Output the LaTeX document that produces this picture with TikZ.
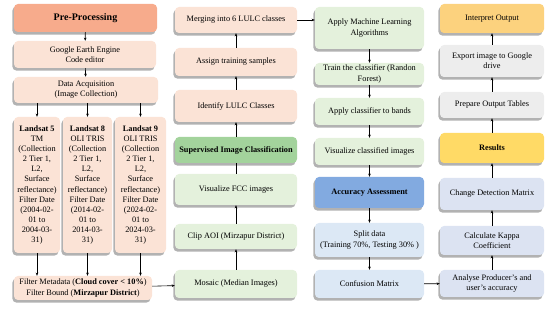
\documentclass[tikz,border=0pt]{standalone}
\usepackage{fontspec}
\setmainfont{Liberation Serif}
\usetikzlibrary{arrows.meta,shadows}
\definecolor{peach}{HTML}{FBE3D6}
\definecolor{orangeH}{HTML}{F7AB8C}
\definecolor{greenL}{HTML}{E4F1DC}
\definecolor{greenH}{HTML}{A3D39C}
\definecolor{blueL}{HTML}{DCE8F5}
\definecolor{blueH}{HTML}{82AAE0}
\definecolor{slateL}{HTML}{DCE3F2}
\definecolor{grayL}{HTML}{EDEDED}
\definecolor{goldL}{HTML}{FCD27E}
\definecolor{goldH}{HTML}{FFDA66}
\tikzset{
  box/.style={draw=none, rounded corners=4pt, align=center, inner sep=1pt,
    font=\fontsize{8.3}{10.1}\selectfont,
    drop shadow={shadow xshift=-1.6pt, shadow yshift=-2.6pt, fill=black, opacity=0.3}},
  bx/.style n args={3}{box, minimum width=#1, minimum height=#2, fill=#3},
  arr/.style={-{Stealth[length=3.2pt,width=2.6pt]}, line width=0.6pt, black},
  ln/.style={line width=0.6pt, black}
}
\begin{document}
\begin{tikzpicture}[x=1pt,y=-1pt]
\useasboundingbox (0,0) rectangle (550,312);
% Column 1
\node[bx={143pt}{28pt}{orangeH}, font=\fontsize{10}{12}\selectfont\bfseries] (pre) at (85.5,18) {Pre-Processing};
\node[bx={142pt}{27pt}{peach}] (gee) at (85,54.5) {Google Earth Engine\\Code editor};
\node[bx={144pt}{26pt}{peach}] (acq) at (86,90) {Data Acquisition\\(Image Collection)};
\node[bx={46pt}{136pt}{peach}] (l5) at (37,185) {\textbf{Landsat 5}\\TM\\(Collection\\2 Tier 1,\\L2,\\Surface\\reflectance)\\Filter Date\\(2004-02-\\01 to\\2004-03-\\31)};
\node[bx={49pt}{136pt}{peach}] (l8) at (87.5,185) {\textbf{Landsat 8}\\OLI TRIS\\(Collection\\2 Tier 1,\\L2,\\Surface\\reflectance)\\Filter Date\\(2014-02-\\01 to\\2014-03-\\31)};
\node[bx={51pt}{136pt}{peach}] (l9) at (140.5,185) {\textbf{Landsat 9}\\OLI TRIS\\(Collection\\2 Tier 1,\\L2,\\Surface\\reflectance)\\Filter Date\\(2024-02-\\01 to\\2024-03-\\31)};
\node[bx={138pt}{24pt}{peach}] (filt) at (83,288) {Filter Metadata (\textbf{Cloud cover < 10\%})\\Filter Bound (\textbf{Mirzapur District})};
% Column 2
\node[bx={122pt}{26pt}{peach}] (merge) at (236,20) {Merging into 6 LULC classes};
\node[bx={122pt}{28pt}{peach}] (assign) at (236,62) {Assign training samples};
\node[bx={122pt}{32pt}{peach}] (ident) at (236,106) {Identify LULC Classes};
\node[bx={122pt}{26pt}{greenH}, font=\fontsize{8.3}{10.1}\selectfont\bfseries] (sup) at (236,150) {Supervised Image Classification};
\node[bx={122pt}{31pt}{greenL}] (fcc) at (236,189.5) {Visualize FCC images};
\node[bx={122pt}{25pt}{greenL}] (clip) at (236,236.5) {Clip AOI (Mirzapur District)};
\node[bx={122pt}{28pt}{greenL}] (mosaic) at (236,284) {Mosaic (Median Images)};
% Column 3
\node[bx={109pt}{42pt}{greenL}] (ml) at (369.5,28) {Apply Machine Learning\\Algorithms};
\node[bx={109pt}{22pt}{greenL}] (train) at (369.5,74) {Train the classifier (Randon\\Forest)};
\node[bx={109pt}{27pt}{greenL}] (applycl) at (369.5,111.5) {Apply classifier to bands};
\node[bx={109pt}{27pt}{greenL}] (viscl) at (369.5,151.5) {Visualize classified images};
\node[bx={109pt}{31pt}{blueH}, font=\fontsize{8.3}{10.1}\selectfont\bfseries] (acc) at (369.5,192.5) {Accuracy Assessment};
\node[bx={109pt}{34pt}{blueL}] (split) at (369.5,240) {Split data\\(Training 70\%, Testing 30\% )};
\node[bx={109pt}{28pt}{blueL}] (conf) at (369.5,284) {Confusion Matrix};
% Column 4
\node[bx={104pt}{29pt}{goldL}] (interp) at (492,18.5) {Interpret Output};
\node[bx={104pt}{32pt}{grayL}] (export) at (492,61) {Export image to Google\\drive};
\node[bx={104pt}{26pt}{grayL}] (prep) at (492,105) {Prepare Output Tables};
\node[bx={104pt}{30pt}{goldH}, font=\fontsize{8.3}{10.1}\selectfont\bfseries] (res) at (492,148) {Results};
\node[bx={104pt}{32pt}{slateL}] (chg) at (492,194) {Change Detection Matrix};
\node[bx={104pt}{29pt}{slateL}] (kappa) at (492,240.5) {Calculate Kappa\\Coefficient};
\node[bx={104pt}{27pt}{slateL}] (analyse) at (492,283.5) {Analyse Producer's and\\user's accuracy};
% Connectors column 1
\draw[arr] (pre) -- (gee);
\draw[arr] (gee) -- (acq);
\draw[arr] (acq.south -| l5) -- (l5);
\draw[arr] (acq.south -| l8) -- (l8);
\draw[arr] (acq.south -| l9) -- (l9);
\draw[arr] (l5) -- (filt.north -| l5);
\draw[arr] (l8) -- (filt.north -| l8);
\draw[arr] (l9.south) -- (filt.north -| l9.south);
\draw[arr] (filt) -- (mosaic);
% Column 2 (upwards)
\draw[arr] (mosaic) -- (clip);
\draw[arr] (clip) -- (fcc);
\draw[ln] (fcc) -- (sup);
\draw[arr] (sup) -- (ident);
\draw[arr] (ident) -- (assign);
\draw[arr] (assign) -- (merge);
\draw[arr] (merge) -- (ml.west |- merge);
% Column 3 (downwards)
\draw[arr] (ml) -- (train);
\draw[arr] (train) -- (applycl);
\draw[arr] (applycl) -- (viscl);
\draw[arr] (viscl) -- (acc);
\draw[arr] (acc) -- (split);
\draw[arr] (split) -- (conf);
\draw[arr] (conf) -- (analyse);
% Column 4 (upwards)
\draw[arr] (analyse) -- (kappa);
\draw[arr] (kappa) -- (chg);
\draw[arr] (chg) -- (res);
\draw[arr] (res) -- (prep);
\draw[arr] (prep) -- (export);
\draw[arr] (export) -- (interp);
\end{tikzpicture}
\end{document}
